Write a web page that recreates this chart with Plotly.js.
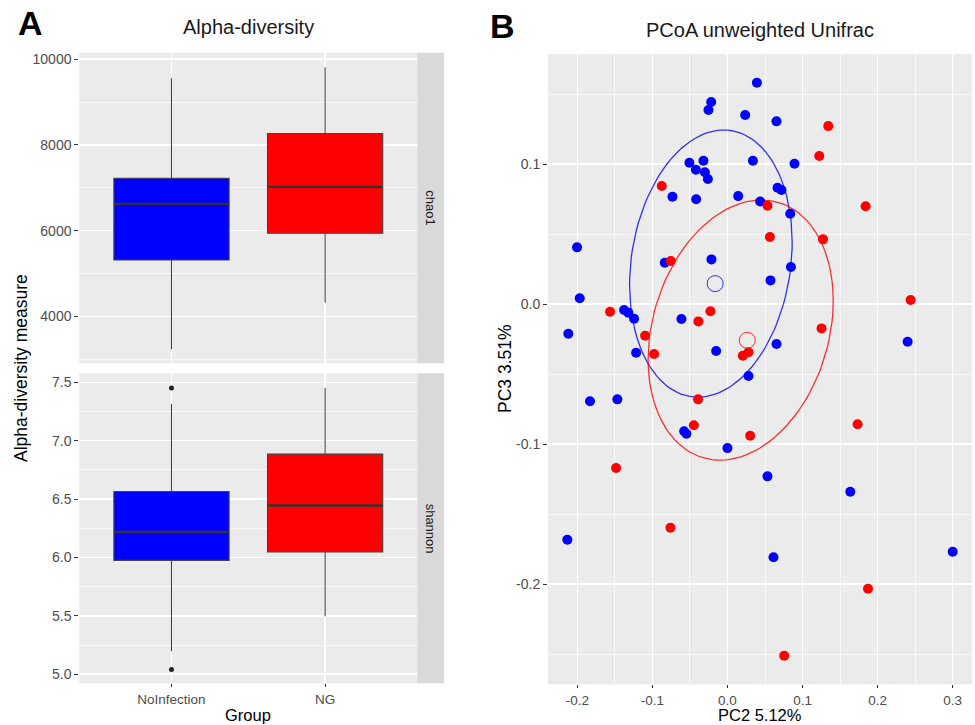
<!DOCTYPE html>
<html>
<head>
<meta charset="utf-8">
<script src="https://cdn.plot.ly/plotly-3.0.1.min.js"></script>
<style>html,body{margin:0;padding:0;background:#fff;}#chart{width:975px;height:725px;}</style>
</head>
<body>
<div id="chart"></div>
<script>
// ---------- Panel A data (boxplot summary statistics) ----------
const groups = ['NoInfection', 'NG'];
const groupColors = ['#0000FF', '#FF0000'];

const chao1Lower  = [3232, 4320];
const chao1Q1     = [5316, 5939];
const chao1Median = [6623, 7020];
const chao1Q3     = [7223, 8264];
const chao1Upper  = [9557, 9813];

const shannonLower  = [5.197, 5.497];
const shannonQ1     = [5.975, 6.047];
const shannonMedian = [6.218, 6.445];
const shannonQ3     = [6.565, 6.885];
const shannonUpper  = [7.315, 7.454];

const shannonOutlierGroup = ['NoInfection', 'NoInfection'];
const shannonOutlierValue = [7.451, 5.041];

const chao1TickVals = [4000, 6000, 8000, 10000];
const chao1TickText = ['4000', '6000', '8000', '10000'];
const shannonTickVals = [5.0, 5.5, 6.0, 6.5, 7.0, 7.5];
const shannonTickText = ['5.0', '5.5', '6.0', '6.5', '7.0', '7.5'];

// ---------- Panel B data (PCoA scores) ----------
const noInfectionPC2 = [0.0392, -0.0217, -0.0253, 0.0236, 0.0653, -0.0507, -0.0320, -0.0421, -0.0301, -0.0261,
  0.0339, 0.0893, -0.0733, -0.0417, 0.0143, 0.0436, 0.0667, 0.0720, 0.0836, -0.2004,
  -0.0835, -0.0213, 0.0845, 0.0573, -0.1968, -0.1377, -0.1320, -0.1244, -0.0613, -0.2120,
  -0.1217, -0.0151, 0.2400, 0.0653, 0.0280, -0.1831, -0.1467, -0.0577, -0.0547, 0.0000,
  0.0533, 0.1636, -0.2133, 0.0613, 0.3000];
const noInfectionPC3 = [0.1581, 0.1443, 0.1386, 0.1350, 0.1305, 0.1009, 0.1024, 0.0959, 0.0941, 0.0893,
  0.1024, 0.1002, 0.0766, 0.0748, 0.0771, 0.0732, 0.0831, 0.0814, 0.0645, 0.0405,
  0.0295, 0.0319, 0.0264, 0.0169, 0.0041, -0.0043, -0.0062, -0.0105, -0.0107, -0.0212,
  -0.0348, -0.0336, -0.0269, -0.0286, -0.0514, -0.0695, -0.0681, -0.0909, -0.0926, -0.1029,
  -0.1231, -0.1341, -0.1684, -0.1809, -0.1769];

const ngPC2 = [-0.0875, 0.1343, 0.1223, 0.0533, 0.1840, 0.0565, 0.1272, -0.0755, -0.1564, -0.0387,
  -0.0227, 0.2440, -0.1097, -0.0977, 0.0205, 0.0280, 0.1253, -0.0391, -0.0448, 0.0303,
  0.1733, -0.1484, -0.0760, 0.1872, 0.0756];
const ngPC3 = [0.0843, 0.1271, 0.1057, 0.0702, 0.0698, 0.0479, 0.0462, 0.0307, -0.0055, -0.0124,
  -0.0052, 0.0029, -0.0226, -0.0357, -0.0369, -0.0345, -0.0174, -0.0681, -0.0866, -0.0941,
  -0.0859, -0.1171, -0.1598, -0.2034, -0.2512];

const centroidPC2 = [-0.0164, 0.0263];
const centroidPC3 = [0.0146, -0.0259];

// ellipse parameters per group (centre, half extents, correlation)
const ellipseCenterX    = [-0.0221, 0.0176];
const ellipseCenterY    = [0.0289, -0.0186];
const ellipseHalfWidth  = [0.1083, 0.1233];
const ellipseHalfHeight = [0.0954, 0.0929];
const ellipseCorr       = [0.158, 0.224];

const pcoaXTickVals = [-0.2, -0.1, 0.0, 0.1, 0.2, 0.3];
const pcoaXTickText = ['-0.2', '-0.1', '0.0', '0.1', '0.2', '0.3'];
const pcoaYTickVals = [-0.2, -0.1, 0.0, 0.1];
const pcoaYTickText = ['-0.2', '-0.1', '0.0', '0.1'];

// ---------- build traces ----------
const FONT = 'Liberation Sans, Arial, Helvetica, sans-serif';
const traces = [];

groups.forEach((g, i) => {
  traces.push({
    type: 'box', xaxis: 'x', yaxis: 'y', name: g, x: [g],
    q1: [chao1Q1[i]], median: [chao1Median[i]], q3: [chao1Q3[i]],
    lowerfence: [chao1Lower[i]], upperfence: [chao1Upper[i]],
    fillcolor: groupColors[i], line: {color: '#444444', width: 1.1},
    width: 0.75, whiskerwidth: 0, boxpoints: false, hoverinfo: 'skip'
  });
  traces.push({
    type: 'box', xaxis: 'x2', yaxis: 'y2', name: g, x: [g],
    q1: [shannonQ1[i]], median: [shannonMedian[i]], q3: [shannonQ3[i]],
    lowerfence: [shannonLower[i]], upperfence: [shannonUpper[i]],
    fillcolor: groupColors[i], line: {color: '#444444', width: 1.1},
    width: 0.75, whiskerwidth: 0, boxpoints: false, hoverinfo: 'skip'
  });
});

traces.push({
  type: 'scatter', mode: 'markers', xaxis: 'x2', yaxis: 'y2',
  x: shannonOutlierGroup, y: shannonOutlierValue,
  marker: {color: '#222222', size: 5}, hoverinfo: 'skip'
});

// ellipses
for (let i = 0; i < 2; i++) {
  const ex = [], ey = [];
  const r = ellipseCorr[i], s = Math.sqrt(1 - r * r);
  for (let k = 0; k <= 120; k++) {
    const t = 2 * Math.PI * k / 120;
    ex.push(ellipseCenterX[i] + ellipseHalfWidth[i] * Math.cos(t));
    ey.push(ellipseCenterY[i] + ellipseHalfHeight[i] * (r * Math.cos(t) + s * Math.sin(t)));
  }
  traces.push({
    type: 'scatter', mode: 'lines', xaxis: 'x3', yaxis: 'y3', x: ex, y: ey,
    line: {color: groupColors[i], width: 1.3}, opacity: 0.8, hoverinfo: 'skip'
  });
}

traces.push({
  type: 'scatter', mode: 'markers', xaxis: 'x3', yaxis: 'y3',
  x: noInfectionPC2, y: noInfectionPC3,
  marker: {color: groupColors[0], size: 10}, hoverinfo: 'skip'
});
traces.push({
  type: 'scatter', mode: 'markers', xaxis: 'x3', yaxis: 'y3',
  x: ngPC2, y: ngPC3,
  marker: {color: groupColors[1], size: 10}, hoverinfo: 'skip'
});
traces.push({
  type: 'scatter', mode: 'markers', xaxis: 'x3', yaxis: 'y3',
  x: centroidPC2, y: centroidPC3,
  marker: {symbol: 'circle-open', color: groupColors, size: 16, line: {width: 1}, opacity: 0.8},
  hoverinfo: 'skip'
});

// ---------- layout ----------
const leftX = [0.08133, 0.428];
const topY = [0.4989, 0.9273];
const botY = [0.0575, 0.4851];
const rightX = [0.5621, 0.9969];
const rightY = [0.0560, 0.9255];

const gridMajor = {showgrid: true, gridcolor: '#FFFFFF', gridwidth: 1.5, zeroline: false, showline: false};
const tickStyle = {ticks: 'outside', ticklen: 4, tickwidth: 1, tickcolor: '#333333',
  tickfont: {family: FONT, size: 14, color: '#4D4D4D'}};
const xTickStyle = {ticks: 'outside', ticklen: 3, tickwidth: 1, tickcolor: '#333333',
  tickfont: {family: FONT, size: 13.5, color: '#4D4D4D'}};
const minorGrid = (d) => ({tickmode: 'linear', tick0: 0, dtick: d, showgrid: true,
  gridcolor: '#FFFFFF', gridwidth: 0.7, ticks: ''});

const shapes = [
  {type: 'rect', xref: 'paper', yref: 'paper', x0: 0.428, x1: 0.4554, y0: topY[0], y1: topY[1],
   fillcolor: '#D9D9D9', line: {width: 0}, layer: 'below'},
  {type: 'rect', xref: 'paper', yref: 'paper', x0: 0.428, x1: 0.4554, y0: botY[0], y1: botY[1],
   fillcolor: '#D9D9D9', line: {width: 0}, layer: 'below'}
];
// thicker median bars (ggplot style), built from the median arrays
groups.forEach((g, i) => {
  shapes.push({type: 'line', xref: 'x', yref: 'y', x0: i - 0.375, x1: i + 0.375,
    y0: chao1Median[i], y1: chao1Median[i], line: {color: '#333333', width: 2.3}});
  shapes.push({type: 'line', xref: 'x2', yref: 'y2', x0: i - 0.375, x1: i + 0.375,
    y0: shannonMedian[i], y1: shannonMedian[i], line: {color: '#333333', width: 2.3}});
});

const ann = (text, x, y, size, opts = {}) => Object.assign({
  text, x, y, xref: 'paper', yref: 'paper', showarrow: false,
  xanchor: 'center', yanchor: 'middle', font: {family: FONT, size, color: '#000000'}
}, opts);

const annotations = [
  ann('<b>A</b>', 30 / 975, 1 - 23 / 725, 34),
  ann('<b>B</b>', 503 / 975, 1 - 26 / 725, 34),
  ann('Alpha-diversity', 248.3 / 975, 1 - 27 / 725, 20, {font: {family: FONT, size: 20, color: '#1A1A1A'}}),
  ann('PCoA unweighted Unifrac', 760 / 975, 1 - 30 / 725, 20, {font: {family: FONT, size: 20, color: '#1A1A1A'}}),
  ann('Alpha-diversity measure', 21 / 975, 1 - 368 / 725, 17.5, {textangle: -90}),
  ann('Group', 248.3 / 975, 0, 16.5, {yanchor: 'bottom', borderpad: 0}),
  ann('PC2 5.12%', 760 / 975, 0, 16.5, {yanchor: 'bottom', borderpad: 0}),
  ann('PC3 3.51%', 505 / 975, 1 - 369 / 725, 17.5, {textangle: -90}),
  ann('chao1', 0.4417, (topY[0] + topY[1]) / 2, 13, {textangle: 90, font: {family: FONT, size: 13, color: '#1A1A1A'}}),
  ann('shannon', 0.4417, (botY[0] + botY[1]) / 2, 13, {textangle: 90, font: {family: FONT, size: 13, color: '#1A1A1A'}})
];

const layout = {
  width: 975, height: 725,
  margin: {l: 0, r: 0, t: 0, b: 0, pad: 0},
  paper_bgcolor: '#FFFFFF', plot_bgcolor: '#EBEBEB',
  showlegend: false,
  font: {family: FONT, size: 14, color: '#4D4D4D'},
  xaxis: Object.assign({}, gridMajor, {
    domain: leftX, anchor: 'y', type: 'category', categoryorder: 'array', categoryarray: groups,
    range: [-0.6, 1.6], showticklabels: false, ticks: ''
  }),
  yaxis: Object.assign({}, gridMajor, tickStyle, {
    domain: topY, anchor: 'x', range: [2905, 10150],
    tickmode: 'array', tickvals: chao1TickVals, ticktext: chao1TickText,
    minor: minorGrid(1000)
  }),
  xaxis2: Object.assign({}, gridMajor, xTickStyle, {
    domain: leftX, anchor: 'y2', type: 'category', categoryorder: 'array', categoryarray: groups,
    range: [-0.6, 1.6]
  }),
  yaxis2: Object.assign({}, gridMajor, tickStyle, {
    domain: botY, anchor: 'x2', range: [4.922, 7.577],
    tickmode: 'array', tickvals: shannonTickVals, ticktext: shannonTickText,
    minor: minorGrid(0.25)
  }),
  xaxis3: Object.assign({}, gridMajor, xTickStyle, {
    domain: rightX, anchor: 'y3', range: [-0.239, 0.3257],
    tickmode: 'array', tickvals: pcoaXTickVals, ticktext: pcoaXTickText,
    minor: minorGrid(0.05)
  }),
  yaxis3: Object.assign({}, gridMajor, tickStyle, {
    domain: rightY, anchor: 'x3', range: [-0.2717, 0.1786],
    tickmode: 'array', tickvals: pcoaYTickVals, ticktext: pcoaYTickText,
    minor: minorGrid(0.05)
  }),
  shapes, annotations
};

Plotly.newPlot('chart', traces, layout, {staticPlot: true, displayModeBar: false});
</script>
</body>
</html>
